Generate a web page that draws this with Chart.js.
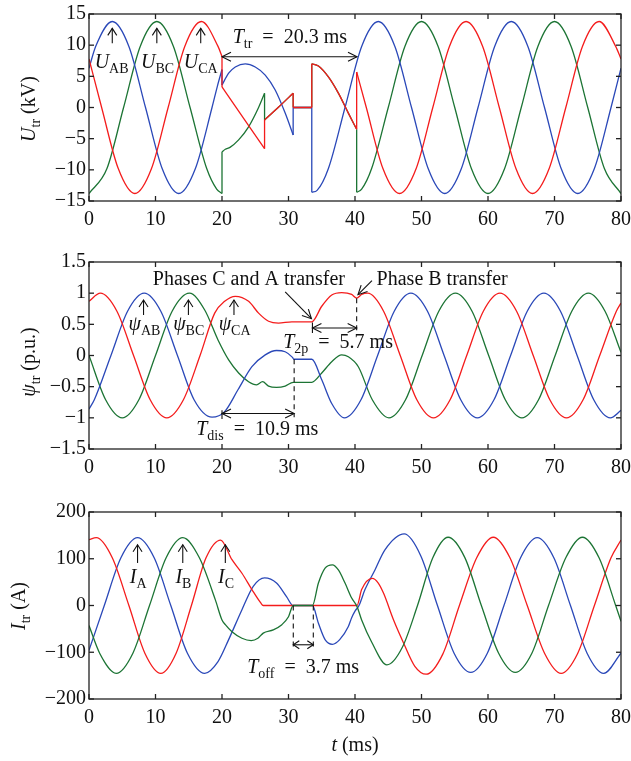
<!DOCTYPE html>
<html>
<head>
<meta charset="utf-8">
<script src="https://cdn.jsdelivr.net/npm/chart.js@4.4.1/dist/chart.umd.min.js"></script>
<style>
  body { margin: 0; background: #fff; }
  .box { position: absolute; left: 0; width: 631px; }
</style>
</head>
<body>
<div class="box" style="top:0;height:250px"><canvas id="cU"></canvas></div>
<div class="box" style="top:250px;height:250px"><canvas id="cPsi"></canvas></div>
<div class="box" style="top:500px;height:261px"><canvas id="cI"></canvas></div>
<script>
// time axis (ms)
const tMin = 0, tMax = 80, tStep = 10;

// transformer voltage U_tr (kV), [t, value]; null = step (vertical jump)
const uAB = [[0,6.3],[1,9.8],[3.5,13.8],[6,9.8],[8.5,0],[11,-9.8],[13.5,-13.8],[16,-9.8],[18.5,0],[19.3,3.4],[20,6.1], null,
  [20,3.6],[21,5.5],[22,6.5],[23.5,7.0],[25,6.5],[26.5,5.2],[28,2.8],[29.5,-0.9],[30.7,-4.4], null,
  [30.7,0],[33.5,0], null,
  [33.5,-13.6],[34.3,-13.3],[36,-9.8],[38.5,0],[41,9.8],[43.5,13.8],[46,9.8],[48.5,0],[51,-9.8],[53.5,-13.8],[56,-9.8],
  [58.5,0],[61,9.8],[63.5,13.8],[66,9.8],[68.5,0],[71,-9.8],[73.5,-13.8],[76,-9.8],[78.5,0],[80,6.3]];
const uBC = [[0,-13.8],[2.7,-9.8],[5.2,0],[7.7,9.8],[10.2,13.8],[12.7,9.8],[15.2,0],[17.7,-9.8],[19.2,-13.1],[20,-13.8], null,
  [20,-7.1],[20.5,-6.7],[21.2,-6.4],[22.5,-5.2],[24,-3.1],[25.5,0],[26.4,2.3], null,
  [26.4,-2.0],[28.6,0.15],[30.7,2.3], null,
  [30.7,0],[33.5,0], null,
  [33.5,7.0],[34.5,6.65],[36,4.9],[37.5,2.3],[39,-0.9],[40.25,-3.5], null,
  [40.25,-13.6],[41,-13.1],[42.5,-9.8],[45,0],[47.5,9.8],[50,13.8],[52.5,9.8],[55,0],[57.5,-9.8],[60,-13.8],[62.5,-9.8],
  [65,0],[67.5,9.8],[70,13.8],[72.5,9.8],[75,0],[77.5,-9.8],[80,-13.8]];
const uCA = [[0,7.8],[1.9,0],[4.4,-9.8],[6.9,-13.8],[9.4,-9.8],[11.9,0],[14.4,9.8],[16.9,13.8],[19.4,9.8],[20,8.2], null,
  [20,3.3],[23.2,-1.65],[26.4,-6.6], null,
  [26.4,-2.0],[28.6,0.15],[30.7,2.3], null,
  [30.7,0],[33.5,0], null,
  [33.5,7.0],[34.5,6.65],[36,4.9],[37.5,2.3],[39,-0.9],[40.25,-3.5], null,
  [40.25,5.7],[41.7,0],[44.2,-9.8],[46.7,-13.8],[49.2,-9.8],[51.7,0],[54.2,9.8],[56.7,13.8],[59.2,9.8],[61.7,0],
  [64.2,-9.8],[66.7,-13.8],[69.2,-9.8],[71.7,0],[74.2,9.8],[76.7,13.8],[79.2,9.8],[80,7.8]];

// flux linkage psi_tr (p.u.)
const psiAB = [[0,-0.86],[0.8,-0.71],[3.3,0],[5.8,0.71],[8.3,1.0],[10.8,0.71],[13.3,0],[15.8,-0.71],[18.5,-0.99],
  [20.4,-0.9],[22.4,-0.55],[24.5,-0.18],[26.5,0.01],[28.2,0.08],[29.5,0.06],[30.6,-0.03],[30.8,-0.06],[33.5,-0.06],
  [35,-0.39],[36.5,-0.77],[38.4,-1.0],[40.9,-0.71],[43.4,0],[45.9,0.71],[48.4,1.0],[50.9,0.71],[53.4,0],[55.9,-0.71],
  [58.4,-1.0],[60.9,-0.71],[63.4,0],[65.9,0.71],[68.4,1.0],[70.9,0.71],[73.4,0],[75.9,-0.71],[78.4,-1.0],[80,-0.88]];
const psiBC = [[0,0],[2.5,-0.71],[5,-1.0],[7.5,-0.71],[10,0],[12.5,0.71],[15.1,1.0],[17.4,0.73],[19.4,0.25],[21,-0.07],
  [22.5,-0.28],[24,-0.42],[25.2,-0.47],[26.1,-0.42],[27,-0.49],[28.2,-0.51],[29.5,-0.49],[30.7,-0.43],[33.5,-0.43],
  [35,-0.28],[36.5,-0.1],[38,0.01],[39,-0.02],[40.5,-0.18],[42.6,-0.71],[45.1,-1.0],[47.6,-0.71],[50.1,0],[52.6,0.71],
  [55.1,1.0],[57.6,0.71],[60.1,0],[62.6,-0.71],[65.1,-1.0],[67.6,-0.71],[70.1,0],[72.6,0.71],[75.1,1.0],[77.6,0.71],
  [80,0.05]];
const psiCA = [[0,0.87],[1.7,1.0],[4.2,0.71],[6.7,0],[9.2,-0.71],[11.7,-1.0],[14.2,-0.71],[16.7,0],[18.9,0.68],
  [20.4,0.87],[22,0.95],[24,0.87],[25.5,0.68],[27,0.55],[28.5,0.52],[30.5,0.54],[33.5,0.54],[35,0.79],[36.5,0.97],
  [38,1.01],[39.5,0.98],[40.25,0.92],[41,0.98],[41.9,1.0],[44.3,0.71],[46.8,0],[49.3,-0.71],[51.8,-1.0],[54.3,-0.71],
  [56.8,0],[59.3,0.71],[61.8,1.0],[64.3,0.71],[66.8,0],[69.3,-0.71],[71.8,-1.0],[74.3,-0.71],[76.8,0],[79.3,0.71],
  [80,0.84]];

// currents I_tr (A)
const iA = [[0,-96],[2.3,0],[4.8,102],[7.3,145],[9.8,102],[12.3,0],[14.8,-102],[17.4,-145],[19.4,-120],[21,-73],
  [23,-9],[24.7,41],[26.4,59],[28.2,48],[29.7,19],[30.7,0],[33.6,0],[34.5,-38],[35.5,-73],[36.6,-83],[37.7,-73],
  [39,-45],[39.5,-26],[40,-12],[40.6,0],[41.5,34],[43,76],[44.5,119],[47.4,153],[49.9,106],[52.4,0],[54.9,-102],
  [57.4,-143],[59.9,-102],[62.4,0],[64.9,102],[67.4,145],[69.9,102],[72.4,0],[74.9,-102],[77.4,-145],[80,-102]];
const iB = [[0,-43],[1.6,-102],[4.1,-145],[6.6,-102],[9.1,0],[11.6,102],[14.1,145],[16.6,102],[19,12],[20,-31],
  [20.5,-41],[21.5,-56],[23,-70],[24.4,-75],[25.4,-70],[26.2,-59],[27.7,-52],[29,-41],[30,-24],[30.7,0],[33.6,0],
  [34.5,48],[35.5,80],[36.6,87],[37.5,76],[38.5,48],[39.5,16],[40.3,-2],[41,-31],[42.5,-78],[44.8,-127],[47.1,-90],
  [49.4,0],[51.7,102],[54,146],[56.5,103],[59,0],[61.6,-102],[64.1,-143],[66.6,-102],[69.1,0],[71.7,102],[74.2,146],
  [76.7,102],[79.2,0],[80,-34]];
const iC = [[0,141],[1.1,145],[3.5,102],[6,0],[8.4,-102],[10.8,-145],[13.1,-102],[15.4,0],[17.6,102],[19.8,140],
  [21.5,98],[23,69],[24.5,34],[25.8,6],[26.2,0],[40.3,0],[41,34],[42.6,58],[43.5,48],[44.3,26],[45.8,-31],[47.3,-80],
  [49,-130],[50.7,-147],[53.2,-104],[55.7,0],[58.3,102],[60.8,146],[63.3,102],[65.9,0],[68.5,-102],[71,-145],
  [73.5,-102],[76,0],[78.5,102],[80,140]];

const BLUE = '#2a48b8', GREEN = '#1c7434', RED = '#f41c1c', INK = '#111';
const SERIF = '"Liberation Serif", "Times New Roman", serif';
const FS = 20, SUB = 14;

function partFont(kind) {
  const size = kind[0] === 's' ? SUB : FS;
  const it = kind === 'i' || kind === 'si';
  return (it ? 'italic ' : '') + size + 'px ' + SERIF;
}

function drawRich(c, parts, x, y, align) {
  let w = 0;
  parts.forEach(p => { c.font = partFont(p[1]); w += c.measureText(p[0]).width; });
  let cx = align === 'center' ? x - w / 2 : align === 'right' ? x - w : x;
  c.textAlign = 'left';
  c.textBaseline = 'alphabetic';
  c.fillStyle = INK;
  parts.forEach(p => {
    c.font = partFont(p[1]);
    c.fillText(p[0], cx, y + (p[1][0] === 's' ? 5 : 0));
    cx += c.measureText(p[0]).width;
  });
}

function yTitle(c, parts, x, y) {
  c.save();
  c.translate(x, y);
  c.rotate(-Math.PI / 2);
  drawRich(c, parts, 0, 0, 'center');
  c.restore();
}

function seg(c, x1, y1, x2, y2) {
  c.beginPath(); c.moveTo(x1, y1); c.lineTo(x2, y2); c.stroke();
}

function head(c, x1, y1, x2, y2, len, half) {
  const ang = Math.atan2(y2 - y1, x2 - x1);
  const bx = x2 - len * Math.cos(ang), by = y2 - len * Math.sin(ang);
  const nx = -Math.sin(ang) * half, ny = Math.cos(ang) * half;
  c.beginPath();
  c.moveTo(bx + nx, by + ny); c.lineTo(x2, y2); c.lineTo(bx - nx, by - ny);
  c.stroke();
}

function arrow(c, x1, y1, x2, y2, len, half) {
  seg(c, x1, y1, x2, y2);
  head(c, x1, y1, x2, y2, len || 9, half || 4.5);
}

function dblArrow(c, x1, x2, y, len, half) {
  seg(c, x1, y, x2, y);
  head(c, x2, y, x1, y, len || 9, half || 4.5);
  head(c, x1, y, x2, y, len || 9, half || 4.5);
}

function dashed(c, x, y1, y2) {
  c.save(); c.setLineDash([5, 4]); seg(c, x, y1, x, y2); c.restore();
}

// smooth pieces, broken at each null
function toPts(arr) {
  return arr.map((p, i) => p ? { x: p[0], y: p[1] } : { x: arr[i - 1][0], y: null });
}

// the vertical steps that join the pieces
function jumpPts(arr) {
  const out = [];
  arr.forEach((p, i) => {
    if (!p) {
      out.push({ x: arr[i - 1][0], y: arr[i - 1][1] }, { x: arr[i + 1][0], y: arr[i + 1][1] }, { x: arr[i + 1][0], y: null });
    }
  });
  return out;
}

function notesPlugin(draw) {
  return {
    id: 'notes',
    afterDraw(chart) {
      const c = chart.ctx, a = chart.chartArea;
      const xs = chart.scales.x, ys = chart.scales.y;
      const X = v => xs.getPixelForValue(v), Y = v => ys.getPixelForValue(v);
      c.save();
      c.strokeStyle = '#222';
      c.lineWidth = 1.3;
      c.strokeRect(a.left, a.top, a.right - a.left, a.bottom - a.top);
      xs.ticks.forEach(t => {
        const px = X(t.value);
        seg(c, px, a.bottom, px, a.bottom - 5);
        seg(c, px, a.top, px, a.top + 5);
      });
      ys.ticks.forEach(t => {
        const py = Y(t.value);
        seg(c, a.left, py, a.left + 5, py);
        seg(c, a.right, py, a.right - 5, py);
      });
      c.strokeStyle = INK;
      c.lineWidth = 1.1;
      draw(c, X, Y, a);
      c.restore();
    }
  };
}

function makeChart(id, opt) {
  const tickFont = { family: SERIF, size: FS };
  const datasets = [];
  opt.series.forEach(s => {
    datasets.push({
      data: toPts(s[0]), borderColor: s[1], borderWidth: 1.3, pointRadius: 0, fill: false,
      spanGaps: false, cubicInterpolationMode: 'monotone'
    });
    if (s[0].includes(null)) {
      datasets.push({
        data: jumpPts(s[0]), borderColor: s[1], borderWidth: 1.3, pointRadius: 0, fill: false,
        spanGaps: false, tension: 0
      });
    }
  });
  return new Chart(document.getElementById(id), {
    type: 'line',
    data: { datasets: datasets },
    options: {
      responsive: true,
      maintainAspectRatio: false,
      animation: false,
      layout: { padding: { left: 0, right: 10, top: opt.padTop, bottom: opt.padBottom } },
      plugins: { legend: { display: false }, tooltip: { enabled: false } },
      scales: {
        x: {
          type: 'linear', min: tMin, max: tMax,
          ticks: { stepSize: tStep, autoSkip: false, maxRotation: 0, padding: 7, color: INK, font: tickFont },
          grid: { display: false, drawTicks: false }, border: { display: false },
          afterFit: s => { s.height = 30; s.paddingLeft = 0; s.paddingRight = 0; }
        },
        y: {
          type: 'linear', min: opt.yMin, max: opt.yMax,
          ticks: { stepSize: opt.yStep, padding: 3, color: INK, font: tickFont,
            callback: v => String(v).replace('-', '\u2212') },
          grid: { display: false, drawTicks: false }, border: { display: false },
          afterFit: s => { s.width = 89; s.paddingTop = 0; s.paddingBottom = 0; }
        }
      }
    },
    plugins: [notesPlugin(opt.draw)]
  });
}

makeChart('cU', {
  series: [[uCA, RED], [uAB, BLUE], [uBC, GREEN]],
  yMin: -15, yMax: 15, yStep: 5, padTop: 14, padBottom: 19,
  draw(c, X, Y) {
    arrow(c, X(3.5), Y(10.3), X(3.5), Y(12.7), 7, 4.5);
    arrow(c, X(10.2), Y(10.3), X(10.2), Y(12.7), 7, 4.5);
    arrow(c, X(16.8), Y(10.3), X(16.8), Y(12.7), 7, 4.5);
    drawRich(c, [['U', 'i'], ['AB', 's']], X(3.4), Y(6.3), 'center');
    drawRich(c, [['U', 'i'], ['BC', 's']], X(10.3), Y(6.3), 'center');
    drawRich(c, [['U', 'i'], ['CA', 's']], X(16.8), Y(6.3), 'center');
    dblArrow(c, X(20), X(40.3), Y(8.15));
    drawRich(c, [['T', 'i'], ['tr', 's'], ['  =  20.3 ms', 'n']], X(30.2), Y(10.3), 'center');
    yTitle(c, [['U', 'i'], ['tr', 's'], [' (kV)', 'n']], 35, 109);
  }
});

makeChart('cPsi', {
  series: [[psiCA, RED], [psiAB, BLUE], [psiBC, GREEN]],
  yMin: -1.5, yMax: 1.5, yStep: 0.5, padTop: 12, padBottom: 21,
  draw(c, X, Y) {
    arrow(c, X(8.2), Y(0.65), X(8.2), Y(0.89), 7, 4.5);
    arrow(c, X(14.95), Y(0.65), X(14.95), Y(0.89), 7, 4.5);
    arrow(c, X(21.8), Y(0.65), X(21.8), Y(0.89), 7, 4.5);
    drawRich(c, [['\u03c8', 'i'], ['AB', 's']], X(8.35), Y(0.41), 'center');
    drawRich(c, [['\u03c8', 'i'], ['BC', 's']], X(15.0), Y(0.41), 'center');
    drawRich(c, [['\u03c8', 'i'], ['CA', 's']], X(21.9), Y(0.41), 'center');
    drawRich(c, [['Phases C and A transfer', 'n']], X(9.6), Y(1.135), 'left');
    arrow(c, X(29.5), Y(1.02), X(33.45), Y(0.59), 9, 4.5);
    drawRich(c, [['Phase B transfer', 'n']], X(43.25), Y(1.135), 'left');
    arrow(c, X(42.55), Y(1.2), X(40.45), Y(0.975), 9, 4.5);
    dashed(c, X(40.25), Y(0.92), Y(0.38));
    seg(c, X(33.6), Y(0.53), X(33.6), Y(0.36));
    dblArrow(c, X(33.6), X(40.25), Y(0.44));
    drawRich(c, [['T', 'i'], ['2p', 's'], ['  =  5.7 ms', 'n']], X(29.2), Y(0.12), 'left');
    dashed(c, X(30.85), Y(-0.06), Y(-0.99));
    seg(c, X(20), Y(-0.88), X(20), Y(-1.02));
    dblArrow(c, X(20), X(30.85), Y(-0.93));
    drawRich(c, [['T', 'i'], ['dis', 's'], ['  =  10.9 ms', 'n']], X(25.3), Y(-1.28), 'center');
    yTitle(c, [['\u03c8', 'i'], ['tr', 's'], [' (p.u.)', 'n']], 35, 112);
  }
});

makeChart('cI', {
  series: [[iB, GREEN], [iC, RED], [iA, BLUE]],
  yMin: -200, yMax: 200, yStep: 100, padTop: 12, padBottom: 32,
  draw(c, X, Y, a) {
    arrow(c, X(7.3), Y(91), X(7.3), Y(130), 7, 4.5);
    arrow(c, X(14.1), Y(91), X(14.1), Y(130), 7, 4.5);
    arrow(c, X(20.5), Y(91), X(20.5), Y(130), 7, 4.5);
    drawRich(c, [['I', 'i'], ['A', 's']], X(7.4), Y(48), 'center');
    drawRich(c, [['I', 'i'], ['B', 's']], X(14.2), Y(48), 'center');
    drawRich(c, [['I', 'i'], ['C', 's']], X(20.6), Y(48), 'center');
    dashed(c, X(30.72), Y(0), Y(-93));
    dashed(c, X(33.73), Y(0), Y(-93));
    dblArrow(c, X(30.72), X(33.73), Y(-84), 6, 4);
    drawRich(c, [['T', 'i'], ['off', 's'], ['  =  3.7 ms', 'n']], X(32.2), Y(-143.6), 'center');
    yTitle(c, [['I', 'i'], ['tr', 's'], [' (A)', 'n']], 25, 106);
    drawRich(c, [['t', 'i'], [' (ms)', 'n']], (a.left + a.right) / 2, 251, 'center');
  }
});
</script>
</body>
</html>
